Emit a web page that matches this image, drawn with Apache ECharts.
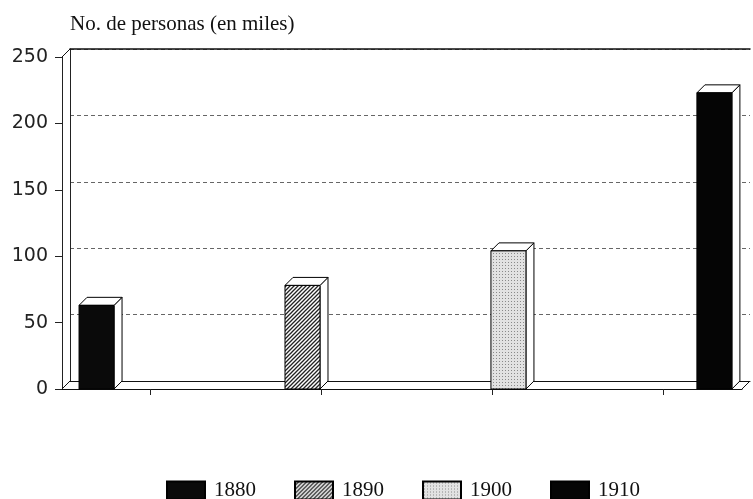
<!DOCTYPE html>
<html>
<head>
<meta charset="utf-8">
<script src="https://cdn.jsdelivr.net/npm/echarts@6/dist/echarts.min.js"></script>
<style>
html,body{margin:0;padding:0;background:#fff;}
#c{width:753px;height:499px;}
</style>
</head>
<body>
<div id="c"></div>
<script>
// ---- data ----
const categories = ['1880', '1890', '1900', '1910'];
const values = [63, 78, 104, 223];
const yTicks = [0, 50, 100, 150, 200, 250];
const xTickCount = 3; // small tick marks along the floor
const titleText = 'No. de personas (en miles)';

// ---- patterns ----
function makePattern(kind) {
  const c = document.createElement('canvas');
  if (kind === 'hatch') {
    c.width = 4; c.height = 4;
    const g = c.getContext('2d');
    g.fillStyle = '#ffffff'; g.fillRect(0, 0, 4, 4);
    g.strokeStyle = '#222'; g.lineWidth = 1.3;
    g.beginPath();
    g.moveTo(-1, 5); g.lineTo(5, -1);
    g.moveTo(-1, 1); g.lineTo(1, -1);
    g.moveTo(3, 5); g.lineTo(5, 3);
    g.stroke();
  } else {
    c.width = 3; c.height = 3;
    const g = c.getContext('2d');
    g.fillStyle = '#e2e2e2'; g.fillRect(0, 0, 3, 3);
    g.fillStyle = '#8a8a8a'; g.fillRect(1, 1, 1, 1);
  }
  return { image: c, repeat: 'repeat' };
}
const fills = ['#0a0a0a', makePattern('hatch'), makePattern('dots'), '#050505'];

const D = 8;      // depth offset (px)
const BW = 35;    // bar front width (px)

function renderBar(params, api) {
  const x = api.value(0), v = api.value(1);
  const top = api.coord([x, v]);
  const bot = api.coord([x, 0]);
  const l = top[0] - BW / 2, r = l + BW;
  const ty = top[1], by = bot[1];
  const line = { stroke: '#000', lineWidth: 1 };
  return {
    type: 'group',
    children: [
      { type: 'polygon', shape: { points: [[r, ty], [r + D, ty - D], [r + D, by - D], [r, by]] },
        style: Object.assign({ fill: '#fff' }, line) },
      { type: 'polygon', shape: { points: [[l, ty], [l + D, ty - D], [r + D, ty - D], [r, ty]] },
        style: Object.assign({ fill: '#fff' }, line) },
      { type: 'rect', shape: { x: l, y: ty, width: BW, height: by - ty },
        style: Object.assign({ fill: api.visual('color') }, line) }
    ]
  };
}

function renderFrame(params, api) {
  const cs = params.coordSys;
  const x0 = cs.x, x1 = cs.x + cs.width, y0 = cs.y, y1 = cs.y + cs.height;
  const st = { stroke: '#111', lineWidth: 1 };
  return {
    type: 'group',
    children: [
      { type: 'line', shape: { x1: x0, y1: y1, x2: x0 + D, y2: y1 - D }, style: st },
      { type: 'line', shape: { x1: x1, y1: y1, x2: x1 + D, y2: y1 - D }, style: st },
      { type: 'line', shape: { x1: x0, y1: y0, x2: x0 + D, y2: y0 - D }, style: st }
    ]
  };
}

const series = categories.map((name, i) => ({
  name: name,
  type: 'custom',
  xAxisIndex: 0, yAxisIndex: 0,
  renderItem: renderBar,
  itemStyle: { color: fills[i], borderColor: '#000', borderWidth: 1 },
  data: [[i, values[i]]],
  z: 5
}));
series.push({
  name: 'frame', type: 'custom', xAxisIndex: 0, yAxisIndex: 0,
  renderItem: renderFrame, data: [[0, 0]], silent: true, z: 3
});

const chart = echarts.init(document.getElementById('c'), null, { renderer: 'canvas' });
chart.setOption({
  backgroundColor: '#ffffff',
  animation: false,
  title: {
    text: titleText, left: 65, top: 9,
    textStyle: { fontFamily: 'Liberation Serif', fontSize: 21, fontWeight: 'normal', color: '#111' }
  },
  legend: {
    data: categories, left: 161, top: 475, icon: 'rect',
    itemWidth: 38, itemHeight: 18, itemGap: 38,
    textStyle: { fontFamily: 'Liberation Serif', fontSize: 21, color: '#111', padding: [0, 0, 0, 4] }
  },
  grid: [
    { left: 62, right: 11, top: 57, bottom: 110 },        // front
    { left: 70, right: 3, top: 49, bottom: 118 },         // back wall
    { left: 150, width: 513, top: 57, bottom: 110 }       // x tick marks
  ],
  xAxis: [
    { gridIndex: 0, type: 'value', min: -0.1677, max: 3.134,
      axisLine: { show: true, onZero: false, lineStyle: { color: '#111', width: 1 } },
      axisTick: { show: false }, axisLabel: { show: false }, splitLine: { show: false } },
    { gridIndex: 1, type: 'value', min: 0, max: 1, position: 'bottom',
      axisLine: { show: true, onZero: false, lineStyle: { color: '#111', width: 1 } },
      axisTick: { show: false }, axisLabel: { show: false }, splitLine: { show: false } },
    { gridIndex: 1, type: 'value', min: 0, max: 1, position: 'top',
      axisLine: { show: true, onZero: false, lineStyle: { color: '#111', width: 1.5 } },
      axisTick: { show: false }, axisLabel: { show: false }, splitLine: { show: false } },
    { gridIndex: 2, type: 'value', min: 0, max: xTickCount, interval: 1,
      axisLine: { show: false, onZero: false }, axisLabel: { show: false }, splitLine: { show: false },
      axisTick: { show: true, length: 6, lineStyle: { color: '#222' } } }
  ],
  yAxis: [
    { gridIndex: 0, type: 'value', min: yTicks[0], max: yTicks[yTicks.length - 1], interval: yTicks[1] - yTicks[0],
      axisLine: { show: true, onZero: false, lineStyle: { color: '#222', width: 1 } },
      axisTick: { show: true, length: 7, lineStyle: { color: '#222' } },
      axisLabel: { show: true, margin: 14, fontFamily: 'DejaVu Sans', fontSize: 19, color: '#222' },
      splitLine: { show: false } },
    { gridIndex: 1, type: 'value', min: yTicks[0], max: yTicks[yTicks.length - 1], interval: yTicks[1] - yTicks[0],
      axisLine: { show: true, onZero: false, lineStyle: { color: '#222', width: 1 } },
      axisTick: { show: false }, axisLabel: { show: false },
      splitLine: { show: true, lineStyle: { color: '#666', width: 1, type: [4, 3] } } },
    { gridIndex: 2, type: 'value', show: false, min: 0, max: 1 }
  ],
  series: series
});
</script>
</body>
</html>
